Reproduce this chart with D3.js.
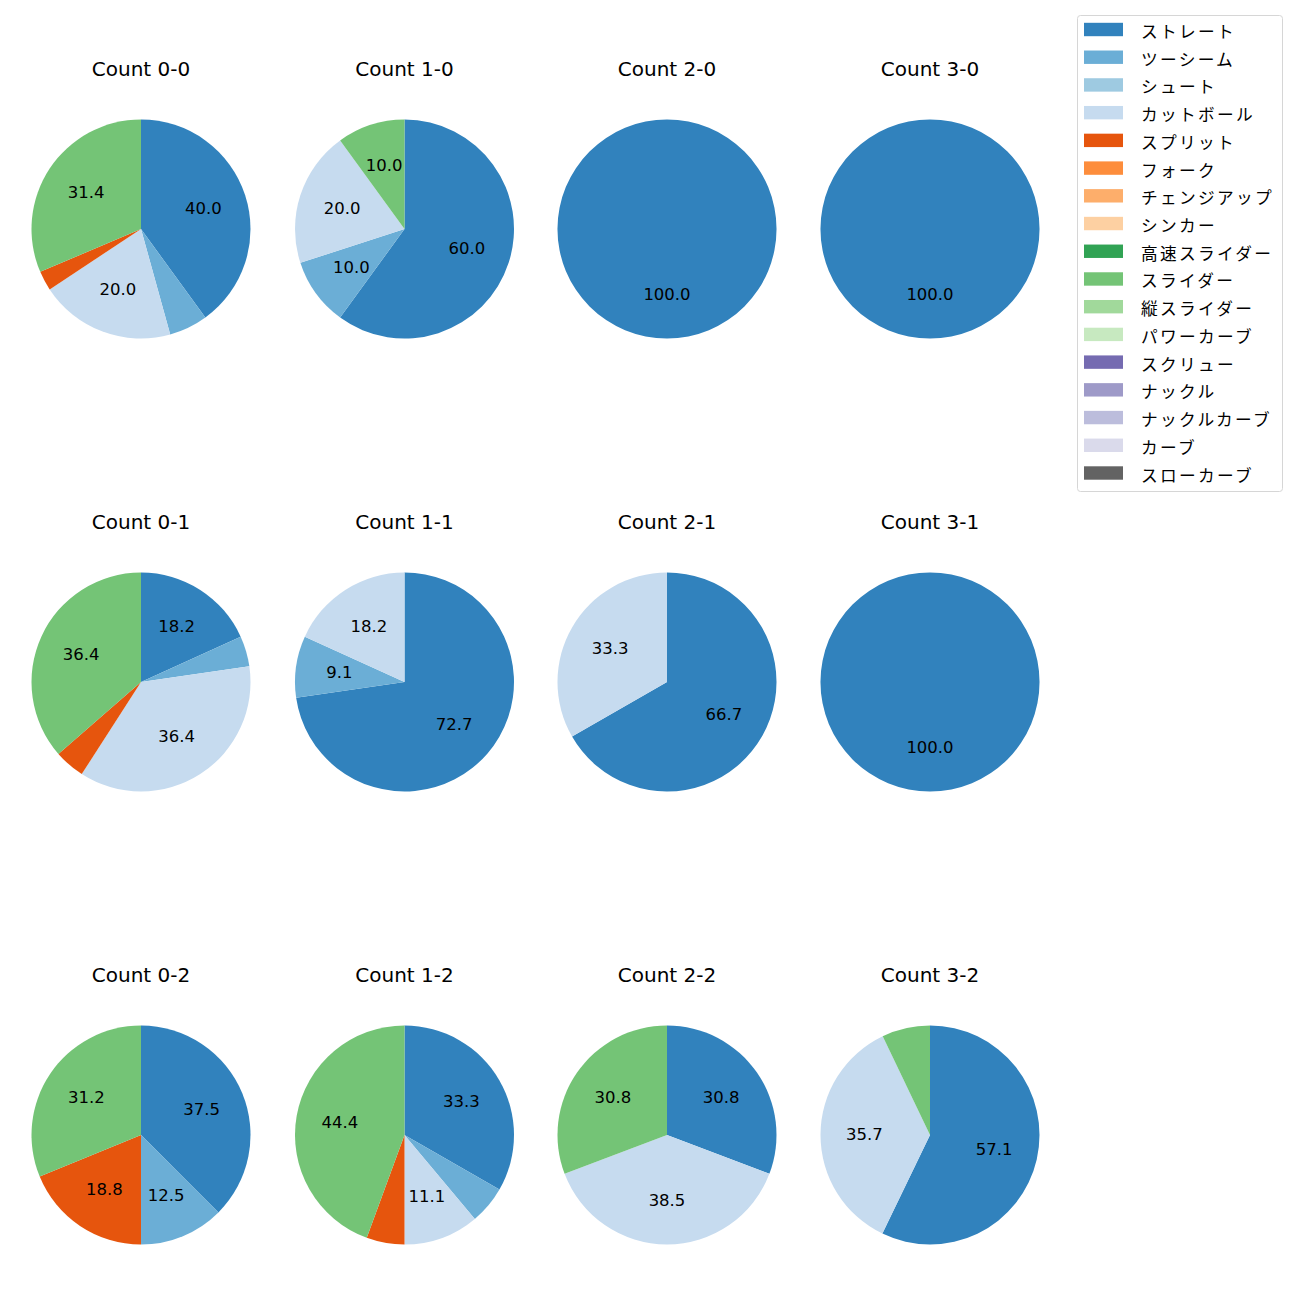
<!DOCTYPE html>
<html>
<head>
<meta charset="utf-8">
<script src="https://cdn.jsdelivr.net/npm/d3@7"></script>
<style>
  html, body { margin: 0; padding: 0; background: #fff; }
  svg { display: block; }
  text { font-family: "DejaVu Sans", "Noto Sans CJK JP", sans-serif; fill: #000; }
  text.leg { font-family: "Noto Sans CJK JP", sans-serif; }
</style>
</head>
<body>
<svg id="chart" width="1300" height="1300"></svg>
<script>
// ---- data ----
const pitchTypes = ["ストレート","ツーシーム","シュート","カットボール","スプリット","フォーク","チェンジアップ","シンカー","高速スライダー","スライダー","縦スライダー","パワーカーブ","スクリュー","ナックル","ナックルカーブ","カーブ","スローカーブ"];
const pitchColors = ["#3182bd","#6baed6","#9ecae1","#c6dbef","#e6550d","#fd8d3c","#fdae6b","#fdd0a2","#31a354","#74c476","#a1d99b","#c7e9c0","#756bb1","#9e9ac8","#bcbddc","#dadaeb","#636363"];

const countLabels = ["Count 0-0","Count 1-0","Count 2-0","Count 3-0",
                     "Count 0-1","Count 1-1","Count 2-1","Count 3-1",
                     "Count 0-2","Count 1-2","Count 2-2","Count 3-2"];

// percentages per pitch type (same order as pitchTypes)
const count00 = [40.0, 5.7, 0, 20.0, 2.9, 0, 0, 0, 0, 31.4, 0, 0, 0, 0, 0, 0, 0];
const count10 = [60.0, 10.0, 0, 20.0, 0, 0, 0, 0, 0, 10.0, 0, 0, 0, 0, 0, 0, 0];
const count20 = [100.0, 0, 0, 0, 0, 0, 0, 0, 0, 0, 0, 0, 0, 0, 0, 0, 0];
const count30 = [100.0, 0, 0, 0, 0, 0, 0, 0, 0, 0, 0, 0, 0, 0, 0, 0, 0];
const count01 = [18.2, 4.5, 0, 36.4, 4.5, 0, 0, 0, 0, 36.4, 0, 0, 0, 0, 0, 0, 0];
const count11 = [72.7, 9.1, 0, 18.2, 0, 0, 0, 0, 0, 0, 0, 0, 0, 0, 0, 0, 0];
const count21 = [66.7, 0, 0, 33.3, 0, 0, 0, 0, 0, 0, 0, 0, 0, 0, 0, 0, 0];
const count31 = [100.0, 0, 0, 0, 0, 0, 0, 0, 0, 0, 0, 0, 0, 0, 0, 0, 0];
const count02 = [37.5, 12.5, 0, 0, 18.8, 0, 0, 0, 0, 31.2, 0, 0, 0, 0, 0, 0, 0];
const count12 = [33.3, 5.6, 0, 11.1, 5.6, 0, 0, 0, 0, 44.4, 0, 0, 0, 0, 0, 0, 0];
const count22 = [30.8, 0, 0, 38.5, 0, 0, 0, 0, 0, 30.8, 0, 0, 0, 0, 0, 0, 0];
const count32 = [57.1, 0, 0, 35.7, 0, 0, 0, 0, 0, 7.1, 0, 0, 0, 0, 0, 0, 0];

const countValues = [count00, count10, count20, count30,
                     count01, count11, count21, count31,
                     count02, count12, count22, count32];

const labelThreshold = 8;

// ---- layout ----
const svg = d3.select("#chart");
const colCenters = [141, 404.5, 667, 930];
const rowCenters = [229, 682, 1135];
const radius = 109.5;

const color = d3.scaleOrdinal().domain(pitchTypes).range(pitchColors);
const pie = d3.pie().sort(null).value(d => d.v).startAngle(0).endAngle(2 * Math.PI);
const arc = d3.arc().innerRadius(0).outerRadius(radius);
const labelArc = d3.arc().innerRadius(radius * 0.6).outerRadius(radius * 0.6);

countValues.forEach((vals, i) => {
  const cx = colCenters[i % 4], cy = rowCenters[Math.floor(i / 4)];
  const g = svg.append("g").attr("transform", `translate(${cx},${cy})`);
  const data = pitchTypes.map((p, j) => ({ p, v: vals[j] })).filter(d => d.v > 0);
  const arcs = pie(data);
  g.selectAll("path").data(arcs).join("path")
    .attr("d", arc)
    .attr("fill", d => color(d.data.p));
  g.selectAll("text.lbl").data(arcs.filter(d => d.data.v >= labelThreshold)).join("text")
    .attr("class", "lbl")
    .attr("transform", d => `translate(${labelArc.centroid(d)})`)
    .attr("text-anchor", "middle")
    .attr("dy", "0.3em")
    .style("font-size", "16.5px")
    .text(d => d.data.v.toFixed(1));
  svg.append("text")
    .attr("x", cx).attr("y", cy - 153)
    .attr("text-anchor", "middle")
    .style("font-size", "20px")
    .text(countLabels[i]);
});

// ---- legend ----
const lg = svg.append("g");
lg.append("rect")
  .attr("x", 1077.5).attr("y", 15.5).attr("width", 205).attr("height", 476)
  .attr("rx", 3).attr("fill", "#fff").attr("stroke", "#d6d6d6").attr("stroke-width", 1);
const legendY = d3.scalePoint().domain(pitchTypes).range([29.5, 473]);
pitchTypes.forEach(p => {
  const y = legendY(p);
  lg.append("rect").attr("x", 1084).attr("y", y - 6.7).attr("width", 39).attr("height", 13.4).attr("fill", color(p));
  lg.append("text").attr("class", "leg").attr("x", 1141).attr("y", y + 1.5)
    .attr("dominant-baseline", "central")
    .style("font-size", "16.7px")
    .style("letter-spacing", "2.3px")
    .text(p);
});
</script>
</body>
</html>
